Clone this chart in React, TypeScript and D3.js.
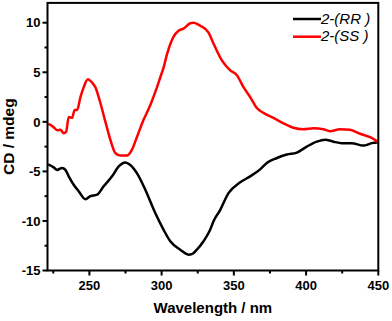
import * as d3 from "d3";

const WIDTH = 392;
const HEIGHT = 321;
const PLOT = { left: 47.5, right: 378.3, top: 2.9, bottom: 270.5 };

// 2-(RR), black trace
const rrWave = [221.5, 225.3, 227.7, 231.1, 233.4, 235.7, 239.1, 242.6, 247.2, 250.7, 255.3, 259.9, 265.7, 270.3, 274.9, 278.3, 283, 288.7, 295.6, 301.4, 306, 312.9, 318.6, 321, 324.4, 329, 333.6, 336, 340.5, 346.3, 354.4, 361.3, 368.2, 372.8, 379.8, 386.7, 393.6, 400.5, 407.4, 413.2, 418.9, 424.7, 431.6, 439.6, 445.4, 450];
const rrCD = [-4.3, -4.6, -4.85, -4.65, -4.85, -5.5, -6.35, -7.0, -7.8, -7.5, -7.35, -6.5, -5.5, -4.5, -4.1, -4.35, -5.2, -6.85, -9.2, -10.9, -12.05, -12.9, -13.4, -13.35, -12.9, -12.05, -10.9, -10.0, -8.9, -7.2, -6.1, -5.5, -4.8, -4.15, -3.65, -3.3, -3.1, -2.5, -2.0, -1.8, -2.0, -2.15, -2.15, -2.4, -2.15, -2.05];

// 2-(SS), red trace
const ssWave = [221.5, 223, 225.3, 227.7, 230, 232.2, 233.9, 235.7, 238, 239.8, 241.5, 243.8, 246.1, 248.9, 251.9, 254.1, 257.6, 261, 264.5, 268, 271.4, 276, 279.5, 283, 287.5, 292.2, 296.8, 299.1, 301.4, 303.7, 308.3, 311.7, 315.2, 319.8, 322.1, 326.7, 332.5, 335.9, 341.7, 347.5, 352.1, 356.7, 361.3, 365.9, 370.5, 377.4, 384.3, 391.2, 398.2, 405.1, 412, 416.6, 423.5, 430.4, 437.3, 444.3, 450];
const ssCD = [-0.2, -0.3, -0.55, -0.85, -0.8, -1.15, -1.0, 0.5, 0.4, 1.2, 1.2, 2.5, 3.5, 4.3, 3.95, 3.5, 1.9, 0.05, -1.8, -3.15, -3.4, -3.4, -2.8, -1.5, 0.2, 1.7, 3.5, 4.5, 5.5, 6.8, 8.6, 9.2, 9.4, 9.95, 10.0, 9.7, 9.0, 7.9, 6.2, 5.2, 4.7, 3.5, 2.5, 1.4, 0.9, 0.4, -0.15, -0.6, -0.75, -0.65, -0.75, -0.95, -0.75, -0.8, -1.2, -1.55, -2.05];

const xMajor = [250, 300, 350, 400, 450];
const xMinor = [225, 275, 325, 375, 425];
const yMajor = [-15, -10, -5, 0, 5, 10];
const yMinor = [-12.5, -7.5, -2.5, 2.5, 7.5];

const seriesNames = ["RR", "SS"];
const seriesColors = ["#000000", "#ff0000"];

const FONT = "'Liberation Sans', Arial, sans-serif";

export default function App() {
  const x = d3.scaleLinear().domain([221, 450]).range([PLOT.left, PLOT.right]);
  const y = d3.scaleLinear().domain([-15, 12]).range([PLOT.bottom, PLOT.top]);

  const line = d3
    .line<[number, number]>()
    .x((d) => x(d[0]))
    .y((d) => y(d[1]))
    .curve(d3.curveMonotoneX);

  const rrPts = rrWave.map((w, i) => [w, rrCD[i]] as [number, number]);
  const ssPts = ssWave.map((w, i) => [w, ssCD[i]] as [number, number]);

  return (
    <div style={{ position: "absolute", left: 0, top: 0 }}>
      <svg width={WIDTH} height={HEIGHT} style={{ display: "block", background: "#fff" }}>
        {/* traces */}
        <path d={line(rrPts) ?? ""} fill="none" stroke={seriesColors[0]} strokeWidth={2.5} strokeLinejoin="round" />
        <path d={line(ssPts) ?? ""} fill="none" stroke={seriesColors[1]} strokeWidth={2.5} strokeLinejoin="round" />

        {/* frame */}
        <rect
          x={PLOT.left}
          y={PLOT.top}
          width={PLOT.right - PLOT.left}
          height={PLOT.bottom - PLOT.top}
          fill="none"
          stroke="#000"
          strokeWidth={2}
        />

        {/* x ticks */}
        {xMajor.map((v) => (
          <g key={"xM" + v}>
            <line x1={x(v)} x2={x(v)} y1={PLOT.bottom} y2={PLOT.bottom + 5} stroke="#000" strokeWidth={2} />
            <text x={x(v)} y={290} textAnchor="middle" fontFamily={FONT} fontWeight="bold" fontSize={13}>
              {v}
            </text>
          </g>
        ))}
        {xMinor.map((v) => (
          <line key={"xm" + v} x1={x(v)} x2={x(v)} y1={PLOT.bottom} y2={PLOT.bottom + 3} stroke="#000" strokeWidth={2} />
        ))}

        {/* y ticks */}
        {yMajor.map((v) => (
          <g key={"yM" + v}>
            <line x1={PLOT.left - 5} x2={PLOT.left} y1={y(v)} y2={y(v)} stroke="#000" strokeWidth={2} />
            <text
              x={PLOT.left - 7}
              y={y(v)}
              dy="0.36em"
              textAnchor="end"
              fontFamily={FONT}
              fontWeight="bold"
              fontSize={13}
            >
              {v}
            </text>
          </g>
        ))}
        {yMinor.map((v) => (
          <line key={"ym" + v} x1={PLOT.left - 3} x2={PLOT.left} y1={y(v)} y2={y(v)} stroke="#000" strokeWidth={2} />
        ))}

        {/* axis titles */}
        <text
          x={(PLOT.left + PLOT.right) / 2}
          y={313}
          textAnchor="middle"
          fontFamily={FONT}
          fontWeight="bold"
          fontSize={15}
        >
          Wavelength / nm
        </text>
        <text
          transform={`translate(14,${(PLOT.top + PLOT.bottom) / 2}) rotate(-90)`}
          textAnchor="middle"
          fontFamily={FONT}
          fontWeight="bold"
          fontSize={15.5}
        >
          CD / mdeg
        </text>

        {/* legend */}
        {seriesNames.map((name, i) => (
          <g key={name} transform={`translate(293,${19 + i * 17.7})`}>
            <line x1={0} x2={28} y1={0} y2={0} stroke={seriesColors[i]} strokeWidth={2.5} />
            <text x={28} y={4.5} fontFamily={FONT} fontStyle="italic" fontSize={15}>
              2-(<tspan>{name}</tspan> )
            </text>
          </g>
        ))}
      </svg>
    </div>
  );
}
